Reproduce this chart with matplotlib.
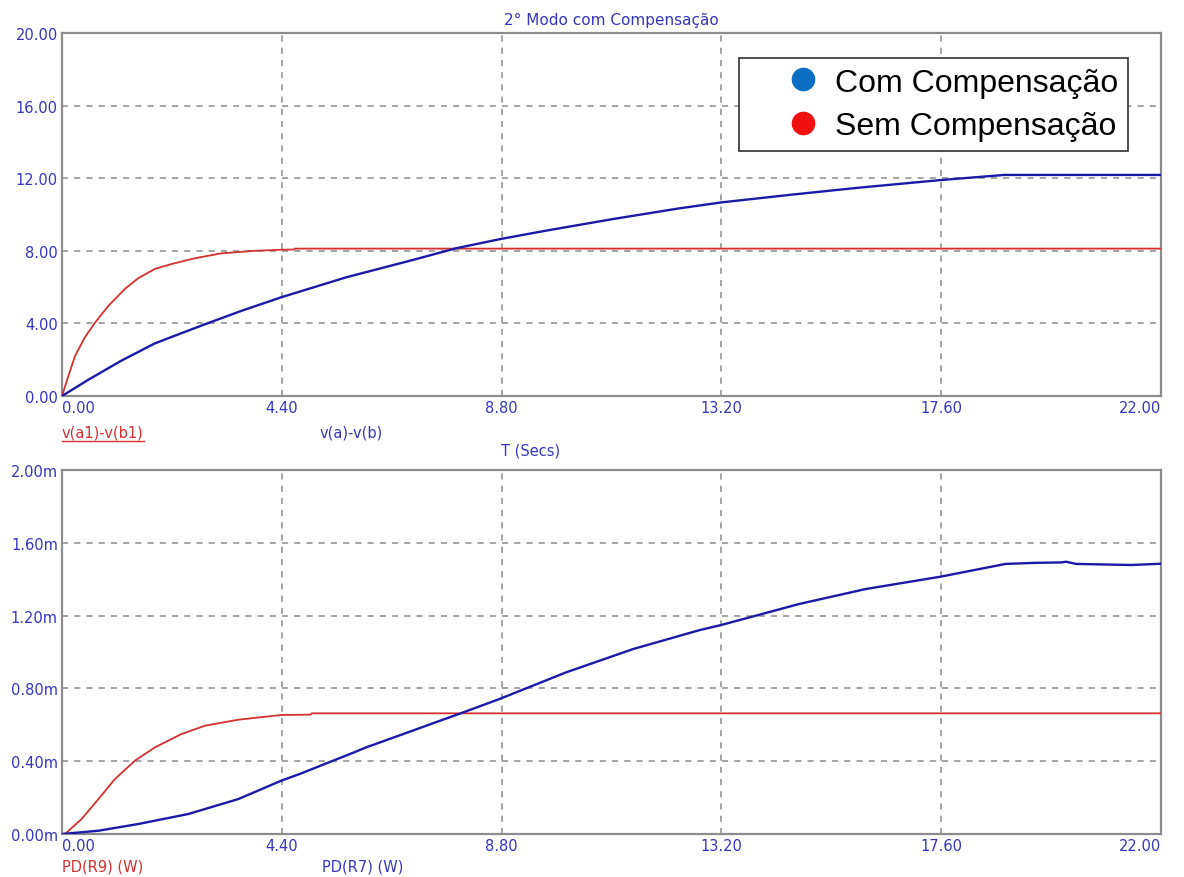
import matplotlib.pyplot as plt
from matplotlib.lines import Line2D

# tensão de saída: v(a)-v(b) com compensação, v(a1)-v(b1) sem compensação
t_com = [0, 0.53, 1.19, 1.86, 2.4, 2.86, 3.6, 4.39, 5.69, 7.03, 7.89, 8.78,
         9.69, 11.03, 12.36, 13.21, 14.63, 15.96, 17.6, 18.86, 22.0]
v_com = [0, 0.9, 1.95, 2.9, 3.47, 3.95, 4.7, 5.44, 6.54, 7.5, 8.14, 8.65,
         9.11, 9.75, 10.34, 10.67, 11.1, 11.48, 11.9, 12.18, 12.18]

t_sem = [0, 0.13, 0.26, 0.45, 0.65, 0.93, 1.26, 1.53, 1.86, 2.19, 2.66,
         3.19, 3.86, 4.4, 4.64, 4.66, 22.0]
v_sem = [0, 1.12, 2.2, 3.2, 4.0, 4.97, 5.9, 6.5, 7.0, 7.27, 7.59,
         7.86, 8.0, 8.06, 8.07, 8.12, 8.12]

# potência dissipada (mW): PD(R7) com compensação, PD(R9) sem compensação
t_r7 = [0, 0.73, 1.53, 2.53, 3.53, 4.39, 4.76, 5.86, 6.09, 8.03, 8.76,
        10.09, 11.43, 12.76, 13.19, 14.76, 16.09, 17.59, 18.89, 19.5,
        20.0, 20.1, 20.3, 21.4, 22.0]
pd_r7 = [0, 0.018, 0.055, 0.11, 0.192, 0.293, 0.33, 0.45, 0.476, 0.668,
         0.742, 0.888, 1.016, 1.12, 1.148, 1.264, 1.346, 1.414, 1.484,
         1.49, 1.492, 1.496, 1.484, 1.478, 1.485]

t_r9 = [0, 0.06, 0.39, 0.73, 1.06, 1.46, 1.86, 2.39, 2.86, 3.53, 4.39,
        4.98, 5.0, 22.0]
pd_r9 = [0, 0, 0.082, 0.192, 0.302, 0.403, 0.476, 0.549, 0.595, 0.628,
         0.654, 0.656, 0.663, 0.663]

x_ticks = [0, 4.4, 8.8, 13.2, 17.6, 22.0]
x_labels = ['0.00', '4.40', '8.80', '13.20', '17.60', '22.00']
v_ticks = [0, 4, 8, 12, 16, 20]
p_ticks = [0, 0.4, 0.8, 1.2, 1.6, 2.0]

BLUE = '#1a1aa6'
RED = '#d43030'
TXT = '#3535c0'
GRAY = '#8c8c8c'

W, H = 1184, 878
fig = plt.figure(figsize=(W / 100, H / 100), dpi=100)
ax1 = fig.add_axes([62 / W, 1 - 397 / H, 1099 / W, 363 / H])
ax2 = fig.add_axes([62 / W, 1 - 835 / H, 1099 / W, 364 / H])


def style(ax, yticks, ylabels):
    ax.set_xlim(0, 22)
    ax.set_xticks(x_ticks)
    ax.set_xticklabels(x_labels)
    ax.set_ylim(yticks[0], yticks[-1])
    ax.set_yticks(yticks)
    ax.set_yticklabels(ylabels)
    ax.tick_params(length=0, pad=3, labelsize=10.5, labelcolor=TXT)
    for lab in ax.get_xticklabels():
        lab.set_horizontalalignment('center')
    ax.get_xticklabels()[0].set_horizontalalignment('left')
    ax.get_xticklabels()[-1].set_horizontalalignment('right')
    ax.grid(True, color=GRAY, linestyle=(0, (4, 4)), linewidth=1.1)
    for sp in ax.spines.values():
        sp.set_color(GRAY)
        sp.set_linewidth(1.6)


ax1.plot(t_sem, v_sem, color=RED, lw=1.3, zorder=3)
ax1.plot(t_com, v_com, color=BLUE, lw=1.7, zorder=3)
style(ax1, v_ticks, ['%.2f' % v for v in v_ticks])

ax2.plot(t_r9, pd_r9, color=RED, lw=1.3, zorder=3)
ax2.plot(t_r7, pd_r7, color=BLUE, lw=1.7, zorder=3)
style(ax2, p_ticks, ['%.2fm' % v for v in p_ticks])

fig.text(611 / W, 1 - 20 / H, '2° Modo com Compensação', color=TXT,
         fontsize=11, ha='center', va='center')

lbl = fig.text(62 / W, 1 - 433 / H, 'v(a1)-v(b1)', color=RED,
               fontsize=10.5, ha='left', va='center')
fig.text(320 / W, 1 - 433 / H, 'v(a)-v(b)', color=TXT,
         fontsize=10.5, ha='left', va='center')
fig.text(531 / W, 1 - 451 / H, 'T (Secs)', color=TXT,
         fontsize=10.5, ha='center', va='center')
fig.text(62 / W, 1 - 867 / H, 'PD(R9) (W)', color=RED,
         fontsize=10.5, ha='left', va='center')
fig.text(322 / W, 1 - 867 / H, 'PD(R7) (W)', color=TXT,
         fontsize=10.5, ha='left', va='center')

handles = [
    Line2D([], [], marker='o', linestyle='', markersize=16,
           color='#0a6fc2', label='Com Compensação'),
    Line2D([], [], marker='o', linestyle='', markersize=16,
           color='#f01010', label='Sem Compensação'),
]
leg = ax1.legend(handles=handles, loc='upper right',
                 bbox_to_anchor=(0.970, 0.931), borderaxespad=0,
                 prop={'family': 'Liberation Sans', 'size': 23},
                 frameon=True, fancybox=False, edgecolor='#303030',
                 framealpha=1, borderpad=0.3, labelspacing=0.42,
                 handlelength=3.4, handletextpad=-0.7)
leg.get_frame().set_linewidth(1.2)

# sublinhado do rótulo vermelho
fig.canvas.draw()
bb = lbl.get_window_extent().transformed(fig.transFigure.inverted())
fig.add_artist(Line2D([bb.x0, bb.x1], [bb.y0 - 1 / H, bb.y0 - 1 / H],
                      color=RED, lw=1.0, transform=fig.transFigure))

fig.savefig('out.png', dpi=100)
